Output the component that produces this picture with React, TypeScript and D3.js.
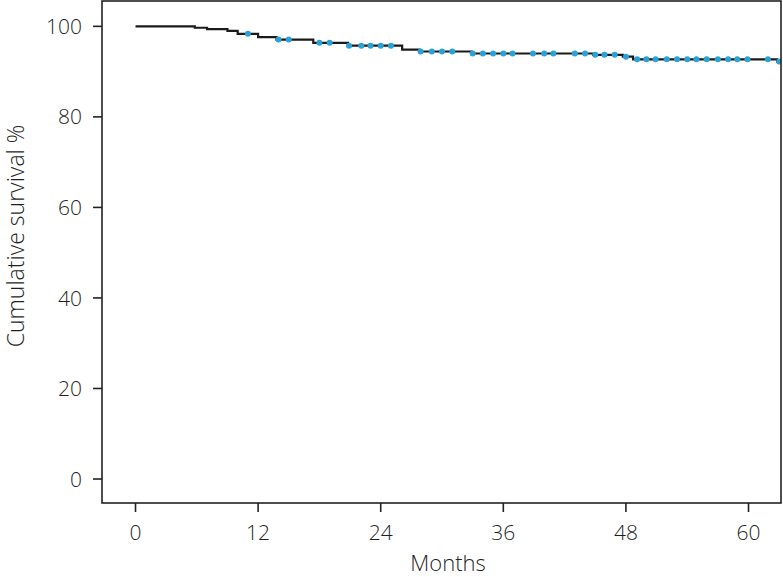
import React from "react";
import * as d3 from "d3";

// Kaplan–Meier step points: time (months) where survival drops, and survival after drop
const stepTimes = [0, 5.8, 7.0, 9.0, 10.0, 12.0, 13.8, 17.4, 20.8, 26.1, 27.8, 32.9, 44.8, 47.7, 48.7, 62.8];
const stepSurvival = [100, 99.69, 99.38, 98.98, 98.34, 97.63, 97.08, 96.36, 95.74, 94.86, 94.44, 94.0, 93.71, 93.31, 92.72, 92.21];
const endTime = 63.2;

// Censored observations (months)
const censorTimes = [11.0, 14.0, 15.0, 18.0, 19.0, 20.9, 22.1, 23.0, 24.0, 25.0, 27.9, 29.0, 30.0, 31.0, 33.0, 34.0, 35.0, 36.0, 36.9, 38.9, 40.0, 40.9, 43.0, 44.0, 45.0, 45.9, 46.9, 48.0, 49.1, 50.0, 50.9, 52.0, 53.0, 54.0, 54.9, 55.9, 57.0, 58.0, 58.9, 59.9, 61.9, 63.0];

const xTicks = [0, 12, 24, 36, 48, 60];
const yTicks = [0, 20, 40, 60, 80, 100];

const W = 783;
const H = 577;
const L = 102, R = 781, T = 1, B = 503;

function survivalAt(t: number): number {
  let s = stepSurvival[0];
  for (let i = 0; i < stepTimes.length; i++) {
    if (stepTimes[i] <= t) s = stepSurvival[i];
  }
  return s;
}

export default function App() {
  const x = d3.scaleLinear().domain([-3.28, 63.18]).range([L, R]);
  const y = d3.scaleLinear().domain([-5.3, 105.6]).range([B, T]);

  const pts: [number, number][] = stepTimes.map((t, i) => [t, stepSurvival[i]]);
  pts.push([endTime, stepSurvival[stepSurvival.length - 1]]);
  const line = d3
    .line<[number, number]>()
    .x((d) => x(d[0]))
    .y((d) => y(d[1]))
    .curve(d3.curveStepAfter);

  const font = "'Open Sans', 'Noto Sans', sans-serif";
  const textColor = "#1f1f1f";

  return (
    <svg width={W} height={H} style={{ position: "absolute", left: 0, top: 0 }} fontFamily={font}>
      <rect x={0} y={0} width={W} height={H} fill="#fff" />
      <defs>
        <clipPath id="plot">
          <rect x={L} y={T} width={R - L} height={B - T} />
        </clipPath>
      </defs>
      <g clipPath="url(#plot)">
        <path d={line(pts) || ""} fill="none" stroke="#1a1a1a" strokeWidth={2.2} />
        {censorTimes.map((t, i) => (
          <circle key={i} cx={x(t)} cy={y(survivalAt(t))} r={3} fill="#2aa2d8" />
        ))}
      </g>
      {/* frame */}
      <rect x={L} y={T} width={R - L} height={B - T} fill="none" stroke="#222" strokeWidth={1.6} />
      {/* x ticks */}
      {xTicks.map((t) => (
        <g key={"x" + t}>
          <line x1={x(t)} x2={x(t)} y1={B} y2={B + 9} stroke="#222" strokeWidth={1.6} />
          <text x={x(t)} y={540} textAnchor="middle" fontSize={21} fontWeight={300} fill={textColor}>
            {t}
          </text>
        </g>
      ))}
      {/* y ticks */}
      {yTicks.map((t) => (
        <g key={"y" + t}>
          <line x1={L - 9} x2={L} y1={y(t)} y2={y(t)} stroke="#222" strokeWidth={1.6} />
          <text x={82} y={y(t)} dy="0.36em" textAnchor="end" fontSize={21} fontWeight={300} fill={textColor}>
            {t}
          </text>
        </g>
      ))}
      <text x={448} y={571} textAnchor="middle" fontSize={22} fontWeight={300} fill={textColor}>
        Months
      </text>
      <text
        transform={`translate(24, 236) rotate(-90)`}
        textAnchor="middle"
        fontSize={23}
        fontWeight={300}
        fill={textColor}
      >
        Cumulative survival %
      </text>
    </svg>
  );
}
